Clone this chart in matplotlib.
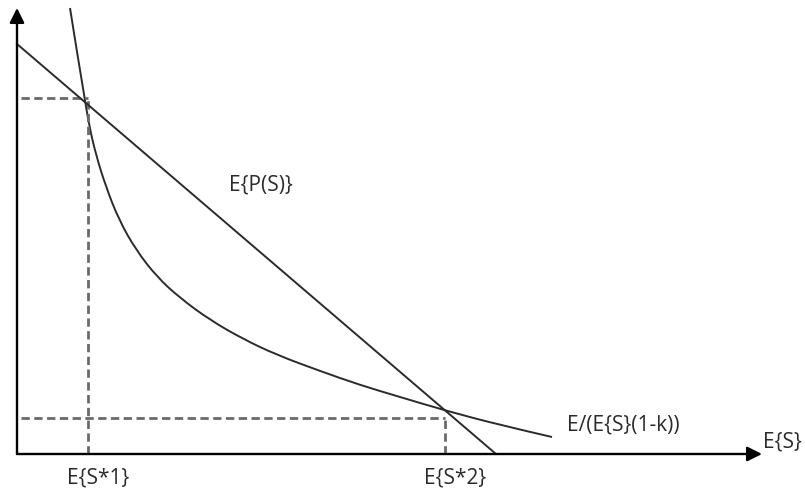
import matplotlib
matplotlib.use("Agg")
import matplotlib.pyplot as plt
from matplotlib.path import Path
from matplotlib.patches import PathPatch

# Curve E/(E{S}(1-k)) (x, y in axis units from origin)
curve_x = [53, 60, 66, 72, 79, 89, 102, 119, 140, 163, 193, 226, 260, 303, 343, 383, 430, 483, 535]
curve_y = [446, 402, 366, 329, 299, 267, 234, 204, 177, 156, 134, 115, 99, 83, 69, 57, 43, 29, 17]

# Straight line E{P(S)}
line_x = [0, 479]
line_y = [410, 0]

# Equilibrium points
eq_x = [71, 428]
eq_y = [356, 36]
eq_labels = ["E{S*1}", "E{S*2}"]

x_axis_end = 745
y_axis_end = 446

plt.rcParams['font.family'] = ['Open Sans', 'DejaVu Sans']

fig = plt.figure(figsize=(8.05, 4.95), dpi=100)
ax = fig.add_axes([0, 0, 1, 1])
ax.set_xlim(-17, 788)
ax.set_ylim(-41, 454)
ax.axis('off')

dash_kw = dict(color='#6a6a6a', lw=2.0, dashes=(3, 1.6))
for xe, ye in zip(eq_x, eq_y):
    ax.plot([xe, xe], [0, ye], **dash_kw)
    ax.plot([4, xe], [ye, ye], **dash_kw)

ax.plot(line_x, line_y, color='#2b2b2b', lw=1.4)

# smooth quadratic path through the read points
pts = list(zip(curve_x, curve_y))
verts = [pts[0]]
codes = [Path.MOVETO]
n = len(pts)
for i in range(1, n - 1):
    end = pts[i + 1] if i == n - 2 else ((pts[i][0] + pts[i + 1][0]) / 2, (pts[i][1] + pts[i + 1][1]) / 2)
    verts += [pts[i], end]
    codes += [Path.CURVE3, Path.CURVE3]
ax.add_patch(PathPatch(Path(verts, codes), fill=False, edgecolor='#2b2b2b', lw=1.4))

arrow_kw = dict(arrowstyle='-|>', mutation_scale=22, lw=1.7, color='black',
                shrinkA=0, shrinkB=0)
ax.annotate('', xy=(x_axis_end, 0), xytext=(0, 0), arrowprops=arrow_kw)
ax.annotate('', xy=(0, y_axis_end), xytext=(0, 0), arrowprops=arrow_kw)

fs = 15
tc = '#2a2a2a'
ax.text(244, 269, "E{P(S)}", fontsize=fs, ha='center', va='center', color=tc)
ax.text(550, 29, "E/(E{S}(1-k))", fontsize=fs, ha='left', va='center', color=tc)
ax.text(746, 12, "E{S}", fontsize=fs, ha='left', va='center', color=tc)
for xe, lab in zip(eq_x, eq_labels):
    ax.text(xe + 10, -24, lab, fontsize=fs, ha='center', va='center', color=tc)

fig.savefig("out.png", dpi=100)
